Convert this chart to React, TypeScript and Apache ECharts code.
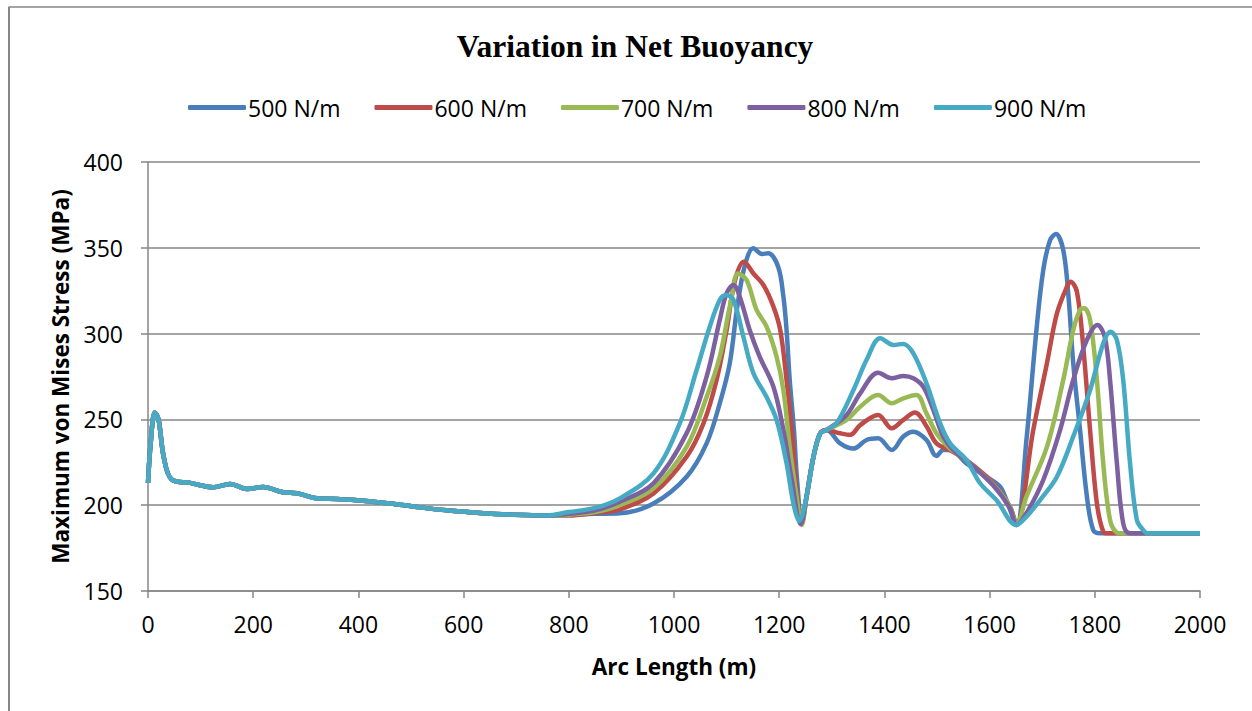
import React, { useEffect, useRef } from "react";
import * as echarts from "echarts";

const seriesNames = ["500 N/m", "600 N/m", "700 N/m", "800 N/m", "900 N/m"];
const seriesColors = ["#4A7EBB", "#BE4B48", "#98B954", "#7D60A0", "#46AAC5"];
const yTicks = [150, 200, 250, 300, 350, 400];
const xTicks = [0, 200, 400, 600, 800, 1000, 1200, 1400, 1600, 1800, 2000];

// shared start (0 – ~760 m), all five curves coincide here
const commonStart: number[][] = [
  [0, 213], [5, 236], [13, 254], [20, 250], [30, 228], [45, 215], [80, 213],
  [124, 210.5], [156, 212.4], [188, 209.5], [219, 210.6], [257, 207.5], [283, 207],
  [321, 204], [359, 203.6], [409, 202.6], [460, 201], [511, 199], [568, 197],
  [631, 195.5], [694, 194.5], [758, 194],
];

const s500: number[][] = [
  [800, 194.5], [850, 195], [897, 195.3], [961, 201], [1024, 216.6], [1062, 236],
  [1087, 259.4], [1106, 282.7], [1120, 315], [1135, 340], [1151, 349.7], [1167, 346.4],
  [1179, 346.8], [1198, 339], [1208, 321.5], [1214, 302], [1220, 273], [1228, 243.8],
  [1234, 214.7], [1243, 190.4], [1252, 205], [1265, 228], [1278, 241.9], [1290, 243.8],
  [1316, 236], [1341, 233], [1366, 238], [1388, 239], [1414, 232.2], [1436, 240],
  [1455, 242.8], [1480, 238], [1499, 228.7], [1512, 232.2], [1525, 232.2], [1556, 224.4],
  [1594, 216.6], [1620, 210.8], [1632, 203], [1651, 188.5], [1670, 238], [1689, 302],
  [1702, 337], [1715, 354.5], [1726, 358], [1740, 348.7], [1750, 321.5], [1759, 282.7],
  [1772, 243.8], [1785, 205], [1797, 185.5], [1810, 183.6], [2000, 183.6],
];

const s600: number[][] = [
  [800, 194], [850, 195.5], [897, 197.6], [961, 206.9], [1024, 228.3], [1056, 247.7],
  [1081, 273], [1100, 302], [1116, 331], [1133, 341.9], [1151, 335], [1170, 328.3],
  [1189, 315.7], [1202, 302], [1214, 273], [1224, 243.8], [1233, 208.9], [1243, 190],
  [1252, 205], [1265, 228], [1278, 241.9], [1290, 243.8], [1316, 241.9], [1335, 241],
  [1354, 246.7], [1388, 252.6], [1414, 244.8], [1436, 249.7], [1458, 254], [1480, 246],
  [1499, 236], [1525, 232], [1556, 226.3], [1607, 212.8], [1639, 199], [1651, 189],
  [1683, 243.8], [1709, 282.7], [1728, 311.8], [1747, 327.3], [1754, 330.2], [1766, 324.4],
  [1778, 292.4], [1791, 243.8], [1804, 201], [1816, 184.6], [1825, 183.6], [2000, 183.6],
];

const s700: number[][] = [
  [800, 194.5], [850, 196], [897, 200], [961, 209.8], [1024, 234], [1062, 263],
  [1087, 286.5], [1106, 315.7], [1122, 335], [1138, 331.2], [1157, 313.8], [1176, 304],
  [1195, 286.5], [1208, 267], [1220, 234], [1233, 205], [1243, 188.5], [1252, 205],
  [1265, 228], [1278, 241.9], [1290, 243.8], [1328, 249.7], [1354, 257.4], [1388, 264.2],
  [1414, 259.4], [1436, 262.3], [1461, 264.2], [1480, 253.5], [1499, 241.9], [1525, 233],
  [1556, 226], [1607, 212], [1639, 199], [1651, 188.5], [1670, 205], [1709, 234],
  [1740, 273], [1759, 302], [1772, 313.8], [1780, 314.7], [1791, 308], [1804, 273],
  [1816, 224.4], [1829, 191.4], [1842, 184], [1850, 183.6], [2000, 183.6],
];

const s800: number[][] = [
  [800, 195], [850, 197], [897, 202], [961, 212.8], [1024, 241.9], [1062, 274.9],
  [1087, 308], [1100, 323.5], [1113, 328.3], [1125, 321.5], [1144, 302], [1163, 286.5],
  [1189, 269], [1208, 243.8], [1224, 214.7], [1241, 189], [1252, 205], [1265, 228],
  [1278, 241.9], [1290, 243.8], [1328, 252.6], [1354, 265.2], [1388, 277.2], [1414, 274],
  [1436, 275.3], [1455, 274], [1474, 269], [1493, 255.5], [1512, 240], [1531, 232],
  [1556, 226], [1607, 211.5], [1639, 198], [1651, 188.5], [1670, 195.3], [1702, 214.7],
  [1734, 243.8], [1759, 273], [1785, 296.3], [1805, 305], [1819, 298], [1829, 273],
  [1842, 224.4], [1854, 189.4], [1867, 183.6], [2000, 183.6],
];

const s900: number[][] = [
  [800, 196], [850, 198.4], [897, 204], [961, 218.6], [1011, 247.7], [1043, 278.8],
  [1068, 304], [1087, 319.6], [1099, 322.5], [1113, 319.6], [1132, 298], [1151, 276.9],
  [1176, 263], [1195, 249.7], [1214, 224.4], [1227, 201], [1238, 191], [1252, 205],
  [1265, 228], [1278, 241.9], [1290, 243.8], [1309, 247.7], [1341, 267], [1366, 284.6],
  [1392, 297.3], [1417, 293.4], [1436, 294], [1455, 288.5], [1480, 271], [1506, 247.7],
  [1525, 236], [1556, 226.3], [1582, 212.8], [1613, 203], [1651, 188.5], [1670, 193.3],
  [1696, 203], [1728, 216.6], [1759, 240], [1791, 267], [1816, 294.3], [1830, 301.1],
  [1842, 296.3], [1854, 273], [1867, 224.4], [1880, 191.4], [1892, 185.5], [1900, 183.6],
  [2000, 183.6],
];

const seriesData = [s500, s600, s700, s800, s900];

const FONT = "'Open Sans', 'Noto Sans', sans-serif";

export default function App() {
  const ref = useRef<HTMLDivElement>(null);
  useEffect(() => {
    if (!ref.current) return;
    const chart = echarts.init(ref.current, null, { renderer: "svg" });
    chart.setOption({
      animation: false,
      backgroundColor: "#ffffff",
      title: {
        text: "Variation in Net Buoyancy",
        left: 630,
        top: 25,
        textAlign: "center",
        textStyle: {
          fontFamily: "'Liberation Serif', 'Times New Roman', serif",
          fontWeight: "bold",
          fontSize: 31.5,
          color: "#000",
        },
      },
      legend: {
        data: seriesNames,
        left: 183,
        top: 91,
        icon: "roundRect",
        itemWidth: 58,
        itemHeight: 5,
        itemGap: 34,
        textStyle: { fontFamily: FONT, fontSize: 23, color: "#000", width: 94, padding: [0, 0, 0, -3] },
      },
      grid: { left: 148, top: 162, width: 1052, height: 429, containLabel: false },
      xAxis: {
        type: "value",
        min: 0,
        max: 2000,
        interval: 200,
        name: "Arc Length (m)",
        nameLocation: "middle",
        nameGap: 64,
        nameTextStyle: { fontFamily: FONT, fontWeight: "bold", fontSize: 22.5, color: "#000" },
        axisLine: { show: true, lineStyle: { color: "#868686", width: 1.5 } },
        axisTick: { show: true, length: 7, lineStyle: { color: "#868686", width: 1.5 } },
        axisLabel: {
          fontFamily: FONT, fontSize: 23, color: "#000", margin: 21,
          formatter: (v: number) => (xTicks.includes(v) ? String(v) : ""),
        },
        splitLine: { show: false },
      },
      yAxis: {
        type: "value",
        min: 150,
        max: 400,
        interval: 50,
        name: "Maximum von Mises Stress (MPa)",
        nameLocation: "middle",
        nameGap: 76,
        nameTextStyle: { fontFamily: FONT, fontWeight: "bold", fontSize: 22.5, color: "#000" },
        axisLine: { show: true, lineStyle: { color: "#868686", width: 1.5 } },
        axisTick: { show: true, length: 7, lineStyle: { color: "#868686", width: 1.5 } },
        axisLabel: {
          fontFamily: FONT, fontSize: 23, color: "#000", margin: 25,
          formatter: (v: number) => (yTicks.includes(v) ? String(v) : ""),
        },
        splitLine: { show: true, lineStyle: { color: "#868686", width: 1.5 } },
      },
      series: seriesNames.map((name, i) => ({
        name,
        type: "line",
        data: [...commonStart, ...seriesData[i]],
        smooth: 0.35,
        showSymbol: false,
        symbol: "none",
        lineStyle: { color: seriesColors[i], width: 4.5 },
        itemStyle: { color: seriesColors[i] },
        z: 2 + i,
      })),
      graphic: [
        { type: "line", shape: { x1: 8.5, y1: 7, x2: 1252, y2: 7 }, style: { stroke: "#868686", lineWidth: 1.5 } },
        { type: "line", shape: { x1: 9, y1: 7, x2: 9, y2: 711 }, style: { stroke: "#868686", lineWidth: 2 } },
      ],
    });
    return () => chart.dispose();
  }, []);
  return (
    <div
      ref={ref}
      style={{ position: "fixed", left: 0, top: 0, width: 1252, height: 711, background: "#fff" }}
    />
  );
}
